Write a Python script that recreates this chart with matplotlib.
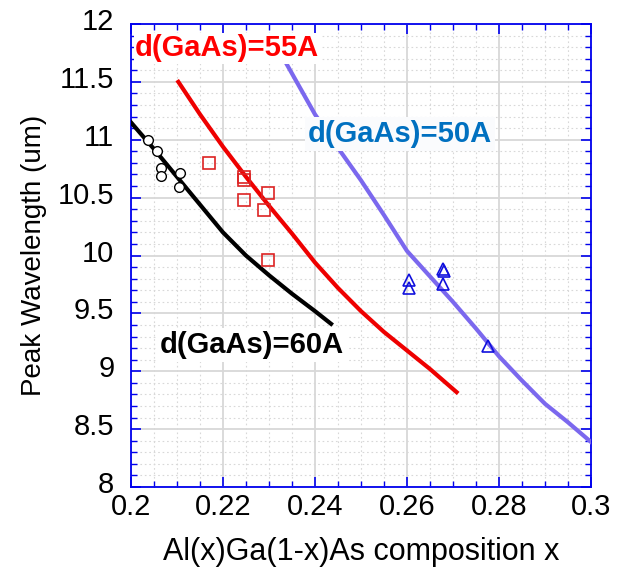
import matplotlib
matplotlib.use("Agg")
import matplotlib.pyplot as plt
from matplotlib.ticker import MultipleLocator
import matplotlib.transforms as mtransforms

plt.rcParams['font.family'] = ['Liberation Sans', 'DejaVu Sans']

# model curves
x60 = [0.200, 0.205, 0.210, 0.215, 0.220, 0.225, 0.230, 0.235, 0.240, 0.2435]
y60 = [11.15, 10.92, 10.68, 10.44, 10.20, 10.00, 9.83, 9.67, 9.52, 9.41]

x55 = [0.2103, 0.215, 0.220, 0.225, 0.230, 0.235, 0.240, 0.245, 0.250, 0.255, 0.260, 0.265, 0.2708]
y55 = [11.50, 11.22, 10.94, 10.68, 10.43, 10.19, 9.94, 9.72, 9.52, 9.34, 9.18, 9.02, 8.82]

x50 = [0.2339, 0.240, 0.245, 0.250, 0.255, 0.260, 0.265, 0.270, 0.275, 0.280, 0.285, 0.290, 0.295, 0.300]
y50 = [11.65, 11.22, 10.93, 10.65, 10.35, 10.04, 9.82, 9.60, 9.37, 9.13, 8.92, 8.72, 8.56, 8.39]

# measured points
xc = [0.2036, 0.2057, 0.2065, 0.2065, 0.2107, 0.2105]
yc = [11.00, 10.90, 10.76, 10.69, 10.71, 10.59]

xs = [0.2170, 0.2246, 0.2246, 0.2246, 0.2299, 0.2289, 0.2299]
ys = [10.80, 10.68, 10.65, 10.48, 10.54, 10.39, 9.96]

xt = [0.2605, 0.2605, 0.2679, 0.2681, 0.2679, 0.2777]
yt = [9.79, 9.72, 9.88, 9.87, 9.75, 9.22]

fig = plt.figure(figsize=(6.19, 5.71), dpi=100)
ax = fig.add_axes([0.2116, 0.147, 0.743, 0.811])

ax.plot(x60, y60, color='black', lw=3, zorder=3)
ax.plot(x55, y55, color='#ee0000', lw=3, zorder=3)
ax.plot(x50, y50, color='#7b68ee', lw=3, zorder=3)

ax.plot(xc, yc, 'o', mfc='white', mec='black', ms=7, mew=1, zorder=4)
ax.plot(xs, ys, 's', mfc='none', mec='#dd2222', ms=9, mew=1.2, zorder=4)
ax.plot(xt, yt, '^', mfc='none', mec='#1010dd', ms=8, mew=1.2, zorder=4)

ax.set_xlim(0.2, 0.3)
ax.set_ylim(8, 12)
ax.xaxis.set_minor_locator(MultipleLocator(0.005))
ax.yaxis.set_minor_locator(MultipleLocator(0.1))
ax.set_xticks([0.2, 0.22, 0.24, 0.26, 0.28, 0.3])
ax.set_xticklabels(['0.2', '0.22', '0.24', '0.26', '0.28', '0.3'])
ax.set_yticks([8, 8.5, 9, 9.5, 10, 10.5, 11, 11.5, 12])
ax.set_yticklabels(['8', '8.5', '9', '9.5', '10', '10.5', '11', '11.5', '12'])

ax.grid(which='major', color='#d8d8d8', lw=1.3, ls='-')
ax.grid(which='minor', color='#d8d8d8', lw=0.8, ls=(0, (1.5, 2.5)))
ax.set_axisbelow(True)

for s in ax.spines.values():
    s.set_color('#0000ee')
    s.set_linewidth(1.3)
ax.tick_params(which='both', direction='in', top=True, right=True, color='#0000ee',
               labelsize=21, labelcolor='black')
ax.tick_params(which='major', length=7, width=1.2)
ax.tick_params(which='minor', length=4, width=1)
ax.tick_params(axis='y', pad=12)
ax.tick_params(axis='x', pad=4)

shift = mtransforms.ScaledTranslation(0, 5 / 100, fig.dpi_scale_trans)
for lab in ax.get_yticklabels():
    lab.set_transform(lab.get_transform() + shift)

ax.set_xlabel('Al(x)Ga(1-x)As composition x', fontsize=22, labelpad=12)
ax.set_ylabel('Peak Wavelength (um)', fontsize=20, labelpad=8)

ax.text(0.2009, 11.79, 'd(GaAs)=55A', color='#ff0000', fontsize=21, fontweight='bold',
        va='center', ha='left', zorder=5,
        bbox=dict(facecolor='white', edgecolor='none', pad=1))
ax.text(0.2385, 11.05, 'd(GaAs)=50A', color='#0070c0', fontsize=21, fontweight='bold',
        va='center', ha='left', zorder=5,
        bbox=dict(facecolor='#fafbfd', edgecolor='none', pad=2))
ax.text(0.2063, 9.23, 'd(GaAs)=60A', color='black', fontsize=21, fontweight='bold',
        va='center', ha='left', zorder=5,
        bbox=dict(facecolor='white', edgecolor='none', pad=2))

fig.savefig('out.png', dpi=100)
